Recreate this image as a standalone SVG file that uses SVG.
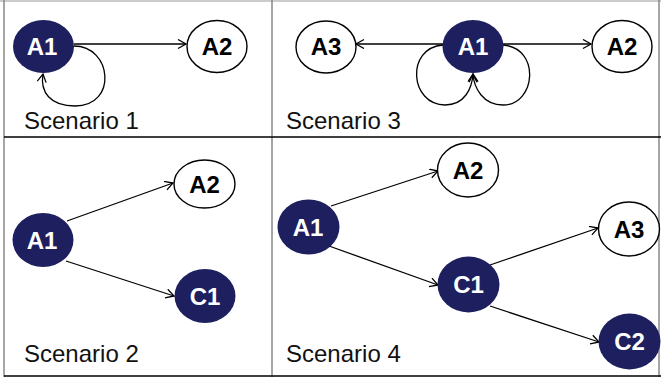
<svg xmlns="http://www.w3.org/2000/svg" width="661" height="379" viewBox="0 0 661 379">
<style>
.dark{fill:#1e1f5e;stroke:none}
.light{fill:#fff;stroke:#000;stroke-width:1.4}
.lblw{font-family:"Liberation Sans",Arial,sans-serif;font-weight:bold;font-size:24px;fill:#fff;text-anchor:middle}
.lblb{font-family:"Liberation Sans",Arial,sans-serif;font-weight:bold;font-size:24px;fill:#000;text-anchor:middle}
.title{font-family:"Liberation Sans",Arial,sans-serif;font-size:24px;fill:#111}
.edge{fill:none;stroke:#000;stroke-width:1.3;marker-end:url(#arr)}
.vline{stroke:#888;stroke-width:1.5}
.hline{stroke:#000;stroke-width:1.5}
</style>
<defs>
<marker id="arr" markerUnits="userSpaceOnUse" markerWidth="12" markerHeight="12" refX="9" refY="5" orient="auto">
<path d="M1,0.5 L9,5 L1,9.5" fill="none" stroke="#000" stroke-width="1.3"/>
</marker>
</defs>
<rect width="661" height="379" fill="#fff"/>
<g id="frame">
<line class="vline" x1="0" y1="1" x2="661" y2="1" style="stroke:#bbb"/>
<line class="vline" x1="4" y1="0" x2="4" y2="377"/>
<line class="vline" x1="272" y1="0" x2="272" y2="377"/>
<line class="vline" x1="659" y1="0" x2="659" y2="377"/>
<line class="hline" x1="4" y1="137" x2="661" y2="137"/>
<line class="hline" x1="4" y1="376" x2="661" y2="376"/>
</g>
<g id="titles">
<text class="title" x="24" y="129">Scenario 1</text>
<text class="title" x="286" y="129">Scenario 3</text>
<text class="title" x="24" y="362">Scenario 2</text>
<text class="title" x="286" y="362">Scenario 4</text>
</g>
<g id="connectors">
<line class="edge" x1="74" y1="44" x2="186" y2="44"/>
<path class="edge" d="M74,46 C112,46 118,106 75,106 C50,106 40,92 43,74"/>
<line class="edge" x1="443" y1="44" x2="356" y2="44"/>
<line class="edge" x1="503" y1="44" x2="591" y2="44"/>
<path class="edge" d="M443,45 C405,48 410,105 445,105 C465,105 472,88 473,74"/>
<path class="edge" d="M503,45 C541,48 536,105 503,105 C483,105 474,88 473,74"/>
<line class="edge" x1="67" y1="221" x2="173" y2="183"/>
<line class="edge" x1="66" y1="261" x2="174" y2="296"/>
<line class="edge" x1="331" y1="206" x2="438" y2="171"/>
<line class="edge" x1="329" y1="246" x2="438" y2="285"/>
<line class="edge" x1="490" y1="265" x2="598" y2="228"/>
<line class="edge" x1="490" y1="306" x2="599" y2="342"/>
</g>
<g id="s1-A1"><ellipse class="dark" cx="43.5" cy="46.5" rx="30.5" ry="26.5"/><text class="lblw" x="42" y="55">A1</text></g>
<g id="s1-A2"><ellipse class="light" cx="217" cy="46.5" rx="30" ry="26"/><text class="lblb" x="217" y="55">A2</text></g>
<g id="s3-A3"><ellipse class="light" cx="326" cy="47" rx="30" ry="26"/><text class="lblb" x="326" y="55">A3</text></g>
<g id="s3-A1"><ellipse class="dark" cx="473" cy="46.5" rx="30.5" ry="26.5"/><text class="lblw" x="473" y="55">A1</text></g>
<g id="s3-A2"><ellipse class="light" cx="622" cy="46.5" rx="30" ry="26"/><text class="lblb" x="622" y="55">A2</text></g>
<g id="s2-A1"><ellipse class="dark" cx="43" cy="240" rx="30.5" ry="27"/><text class="lblw" x="42" y="249">A1</text></g>
<g id="s2-A2"><ellipse class="light" cx="204.5" cy="184" rx="30.5" ry="24"/><text class="lblb" x="204.5" y="193">A2</text></g>
<g id="s2-C1"><ellipse class="dark" cx="205" cy="296" rx="30.5" ry="27"/><text class="lblw" x="205" y="305">C1</text></g>
<g id="s4-A1"><ellipse class="dark" cx="308.5" cy="227" rx="31" ry="27.5"/><text class="lblw" x="308" y="236">A1</text></g>
<g id="s4-A2"><ellipse class="light" cx="468" cy="170" rx="30.5" ry="27"/><text class="lblb" x="468" y="179">A2</text></g>
<g id="s4-C1"><ellipse class="dark" cx="468.5" cy="284.5" rx="31" ry="28"/><text class="lblw" x="468.5" y="293">C1</text></g>
<g id="s4-A3"><ellipse class="light" cx="629" cy="229" rx="30.5" ry="27"/><text class="lblb" x="629" y="238">A3</text></g>
<g id="s4-C2"><ellipse class="dark" cx="629.5" cy="341.5" rx="31" ry="28"/><text class="lblw" x="629.5" y="350">C2</text></g>
</svg>
